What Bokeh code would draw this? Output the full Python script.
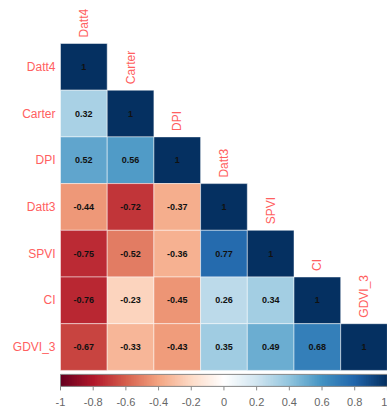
import numpy as np
from bokeh.plotting import figure
from bokeh.models import Range1d, ColumnDataSource, LinearColorMapper
from bokeh.transform import transform
from bokeh.core.properties import value
from bokeh.embed import file_html
from bokeh.resources import INLINE

# variables, in display order
variables = ["Datt4", "Carter", "DPI", "Datt3", "SPVI", "CI", "GDVI_3"]

# lower triangle of the correlation matrix (row by row, diagonal included)
row_datt4 = [1]
row_carter = [0.32, 1]
row_dpi = [0.52, 0.56, 1]
row_datt3 = [-0.44, -0.72, -0.37, 1]
row_spvi = [-0.75, -0.52, -0.36, 0.77, 1]
row_ci = [-0.76, -0.23, -0.45, 0.26, 0.34, 1]
row_gdvi3 = [-0.67, -0.33, -0.43, 0.35, 0.49, 0.68, 1]
rows = [row_datt4, row_carter, row_dpi, row_datt3, row_spvi, row_ci, row_gdvi3]

# colour bar ticks
bar_ticks = [-1, -0.8, -0.6, -0.4, -0.2, 0, 0.2, 0.4, 0.6, 0.8, 1]
bar_tick_labels = ["-1", "-0.8", "-0.6", "-0.4", "-0.2", "0", "0.2", "0.4", "0.6", "0.8", "1"]

# diverging red-white-blue ramp
anchors = ["#67001F", "#B2182B", "#D6604D", "#F4A582", "#FDDBC7", "#FFFFFF",
           "#D1E5F0", "#92C5DE", "#4393C3", "#2166AC", "#053061"]


def ramp(cols, n):
    rgb = np.array([[int(c[i:i + 2], 16) for i in (1, 3, 5)] for c in cols], float)
    pos = np.linspace(0, 1, len(cols))
    t = np.linspace(0, 1, n)
    out = np.stack([np.interp(t, pos, rgb[:, k]) for k in range(3)], axis=1)
    return ["#%02x%02x%02x" % tuple(int(round(v)) for v in px) for px in out]


palette = ramp(anchors, 200)
mapper = LinearColorMapper(palette=palette, low=-1, high=1)

W, H = 387, 409
U = 46.7          # pixels per cell
X0, Y0 = 60, 43   # top-left corner of the grid in pixels

p = figure(width=W, height=H, output_backend="svg", toolbar_location=None,
           x_range=Range1d(-X0 / U, (W - X0) / U),
           y_range=Range1d((H - Y0) / U, -Y0 / U),
           min_border=0, outline_line_color=None)
p.axis.visible = False
p.grid.visible = False
p.background_fill_color = "white"
p.border_fill_color = "white"

# cells
xs, ys, rs, labs = [], [], [], []
for j, row in enumerate(rows):
    for i, r in enumerate(row):
        xs.append(i + 0.5)
        ys.append(j + 0.5)
        rs.append(r)
        labs.append("1" if r == 1 else ("%g" % r))
src = ColumnDataSource(dict(x=xs, y=ys, r=rs, lab=labs))
p.rect("x", "y", 1, 1, source=src, fill_color=transform("r", mapper),
       line_color="white", line_width=0.8, line_alpha=0.6)
p.text("x", "y", text="lab", source=src, text_align="center", text_baseline="middle",
       text_font=value("Liberation Sans"), text_font_size="9px", text_font_style="bold",
       text_color="#111111")

# row labels on the left
label_col = "#FF6060"
p.text([-5 / U] * len(variables), [j + 0.5 for j in range(len(variables))], text=variables,
       text_align="right", text_baseline="middle", text_font=value("Liberation Sans"),
       text_font_size="12px", text_color=label_col)

# column labels, rotated, above each diagonal cell
p.text([i + 0.5 for i in range(len(variables))], [i - 6 / U for i in range(len(variables))],
       text=variables, angle=np.pi / 2, text_align="left", text_baseline="middle",
       text_font=value("Liberation Sans"), text_font_size="12px", text_color=label_col)

# colour bar: thin slices, each overlapping the next to avoid seams
bar_top = 7 + 4 / U
bar_bot = 7 + 16 / U
n = len(palette)
edges = np.linspace(0, 7, n + 1)
rights = np.minimum(edges[1:] + 0.03, 7)
p.quad(left=edges[:-1], right=rights, top=bar_top, bottom=bar_bot,
       fill_color=palette, line_color=None)
p.quad(left=[0], right=[7], top=[bar_top], bottom=[bar_bot], fill_color=None,
       line_color="#888888", line_width=1)
tx = [(t + 1) / 2 * 7 for t in bar_ticks]
p.segment(x0=tx, y0=[bar_bot] * len(tx), x1=tx, y1=[bar_bot + 4 / U] * len(tx),
          line_color="#888888", line_width=1)
aligns = ["center"] * (len(tx) - 1) + ["right"]
tsrc = ColumnDataSource(dict(x=tx, y=[bar_bot + 16 / U] * len(tx), t=bar_tick_labels, a=aligns))
p.text("x", "y", text="t", source=tsrc, text_align="a",
       text_baseline="middle", text_font=value("Liberation Sans"), text_font_size="11px",
       text_color="#666666")

open("out.html", "w").write(file_html(p, INLINE))
